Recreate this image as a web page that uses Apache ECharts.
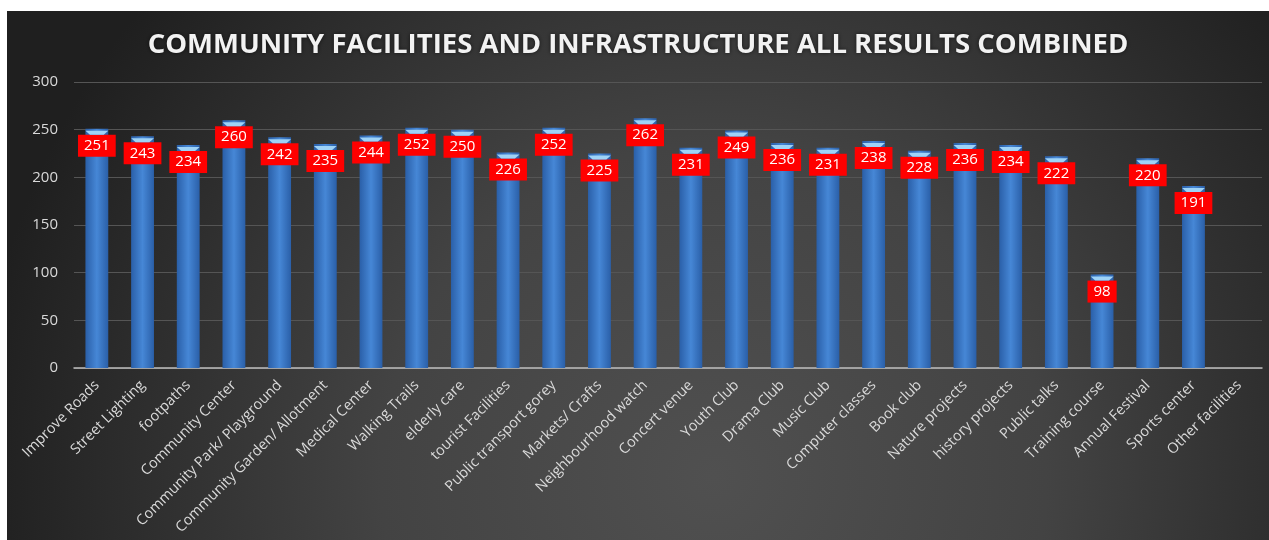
<!DOCTYPE html>
<html><head><meta charset="utf-8">
<script src="https://cdn.jsdelivr.net/npm/echarts@6/dist/echarts.min.js"></script>
<style>
html,body{margin:0;padding:0;background:#fff;width:1269px;height:540px;overflow:hidden}
#c{position:absolute;left:7px;top:11px;width:1262px;height:529px}
</style></head><body>
<div id="c"></div>
<script>
const titleText = 'COMMUNITY FACILITIES AND INFRASTRUCTURE ALL RESULTS COMBINED';
const categories = ['Improve Roads','Street Lighting','footpaths','Community Center','Community Park/ Playground','Community Garden/ Allotment','Medical Center','Walking Trails','elderly care','tourist Facilities','Public transport gorey','Markets/ Crafts','Neighbourhood watch','Concert venue','Youth Club','Drama Club','Music Club','Computer classes','Book club','Nature projects','history projects','Public talks','Training course','Annual Festival','Sports center','Other facilities'];
const values = [251,243,234,260,242,235,244,252,250,226,252,225,262,231,249,236,231,238,228,236,234,222,98,220,191,null];
const yTicks = {min:0, max:300, interval:50};

const chart = echarts.init(document.getElementById('c'));
chart.setOption({
  backgroundColor: {type:'radial', x:0.56, y:0.88, r:1.4, colorStops:[{offset:0,color:'#505050'},{offset:0.45,color:'#434343'},{offset:1,color:'#1f1f1f'}]},
  title: {text:titleText, left:'center', top:15, textStyle:{color:'#f2f2f2', fontFamily:'Open Sans', fontWeight:'bold', fontSize:27.5, textShadowColor:'rgba(0,0,0,0.6)', textShadowBlur:4}},
  grid: {left:67, right:7, top:71, bottom:172},
  xAxis: {type:'category', data:categories, axisTick:{show:false},
    axisLine:{lineStyle:{color:'#bfbfbf', width:1.5}},
    axisLabel:{rotate:45, color:'#d9d9d9', fontFamily:'Open Sans', fontSize:14.5, interval:0, margin:15}},
  yAxis: {type:'value', min:yTicks.min, max:yTicks.max, interval:yTicks.interval,
    axisLine:{show:false}, axisTick:{show:false},
    splitLine:{lineStyle:{color:'#555555', width:1}},
    axisLabel:{color:'#d9d9d9', fontFamily:'Open Sans', fontSize:15, margin:16}},
  series: [
    {type:'bar', data:values, barWidth:'50%',
     itemStyle:{color:{type:'linear', x:0, y:0, x2:1, y2:0, colorStops:[{offset:0,color:'#2a5fa8'},{offset:0.5,color:'#4687d6'},{offset:1,color:'#2a5fa8'}]}},
     label:{show:true, position:'insideTop', distance:6, color:'#ffffff', backgroundColor:'#ff0000', fontFamily:'Open Sans', fontSize:15, lineHeight:16, padding:[3,6]},
     z:2},
    {type:'pictorialBar', data:values, barWidth:'50%', symbol:'path://M0,0 L10,0 L8,3 L2,3 Z', symbolSize:['100%',4], symbolPosition:'end', symbolOffset:[0,'50%'],
     itemStyle:{color:'#9fd3f7'}, z:3, silent:true}
  ]
});
</script>
</body></html>
